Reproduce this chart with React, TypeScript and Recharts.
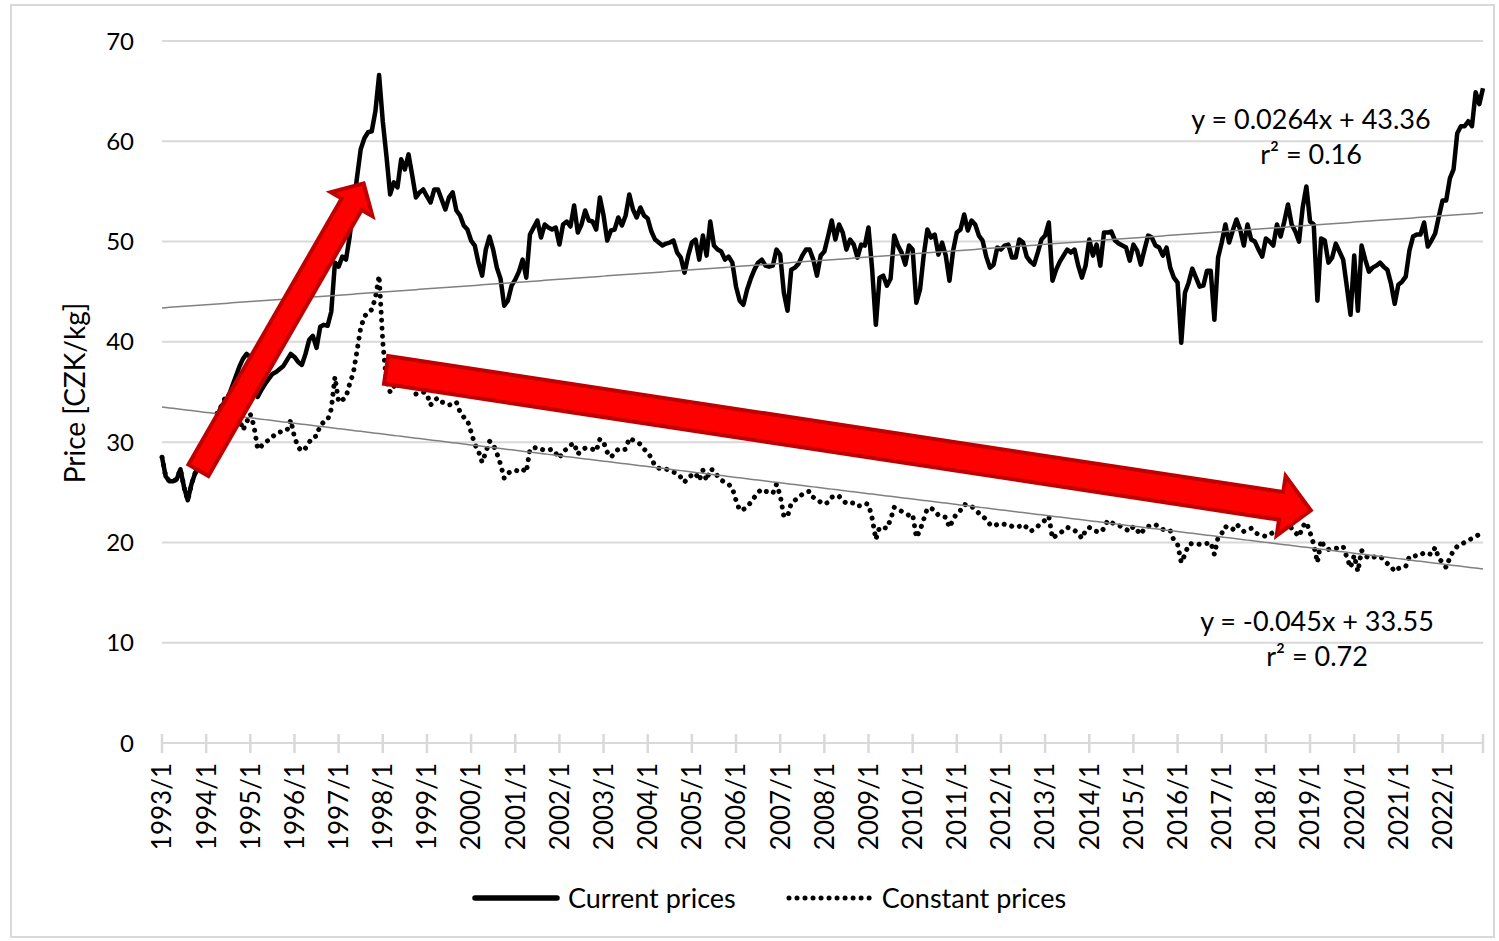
import React from 'react';
import {
  LineChart,
  Line,
  XAxis,
  YAxis,
  CartesianGrid,
  ReferenceLine,
  Legend,
  Customized,
} from 'recharts';

// monthly prices, 1993/1 .. 2022/12 (CZK/kg)
const years = Array.from({ length: 30 }, (_, k) => 1993 + k);
const categories = years.flatMap((y) => Array.from({ length: 12 }, (_, m) => `${y}/${m + 1}`));

const currentPrices = [
  28.5, 26.6, 26.1, 26.1, 26.3, 27.3, 25.5, 24.2, 25.8, 26.9, 27.5, 28.5, // 1993
  29.5, 30.5, 31.5, 32.5, 33.5, 34.0, 34.5, 35.5, 36.5, 37.5, 38.3, 38.8, // 1994
  38.5, 37.0, 34.5, 35.2, 35.8, 36.3, 36.8, 37.0, 37.3, 37.6, 38.2, 38.8, // 1995
  38.5, 38.0, 37.7, 38.8, 40.2, 40.6, 39.4, 41.5, 41.7, 41.6, 43.0, 47.9, // 1996
  47.5, 48.5, 48.2, 50.5, 53.5, 56.4, 59.2, 60.3, 60.9, 61.0, 63.0, 66.6, // 1997
  62.0, 58.5, 54.7, 55.9, 55.4, 58.2, 57.2, 58.7, 56.6, 54.4, 54.9, 55.2, // 1998
  54.5, 53.9, 55.2, 55.2, 54.2, 53.2, 54.4, 54.9, 53.1, 52.6, 51.6, 51.2, // 1999
  50.1, 49.6, 47.9, 46.6, 49.2, 50.5, 49.2, 47.4, 46.3, 43.6, 44.1, 45.6, // 2000
  46.2, 47.0, 48.2, 46.4, 50.7, 51.4, 52.1, 50.4, 51.7, 51.4, 51.2, 51.4, // 2001
  49.7, 51.7, 52.0, 51.5, 53.6, 50.9, 51.7, 53.1, 52.1, 52.0, 51.2, 54.4, // 2002
  52.6, 50.1, 51.1, 51.2, 52.4, 51.6, 52.6, 54.7, 53.2, 52.4, 53.4, 52.6, // 2003
  52.3, 51.0, 50.2, 49.9, 49.6, 49.8, 49.9, 50.1, 48.9, 48.4, 46.9, 48.6, // 2004
  49.9, 50.2, 48.2, 50.6, 48.6, 52.0, 49.6, 49.2, 49.0, 48.2, 48.5, 47.9, // 2005
  45.5, 44.1, 43.7, 45.2, 46.3, 47.2, 47.9, 48.2, 47.6, 47.5, 47.6, 49.2, // 2006
  48.7, 44.9, 43.1, 47.2, 47.4, 47.8, 48.6, 49.2, 49.2, 48.2, 46.6, 48.6, // 2007
  49.0, 50.5, 52.1, 50.2, 51.7, 50.9, 49.2, 50.2, 49.7, 48.4, 49.7, 49.6, // 2008
  51.4, 47.2, 41.7, 46.4, 46.6, 45.6, 46.3, 50.6, 49.6, 48.9, 47.7, 49.6, // 2009
  49.2, 43.9, 45.2, 48.6, 51.2, 50.4, 50.7, 48.7, 49.9, 48.6, 46.1, 49.1, // 2010
  50.9, 51.2, 52.7, 51.1, 52.1, 51.7, 50.6, 50.1, 48.5, 47.4, 47.7, 49.4, // 2011
  49.2, 49.6, 49.7, 48.4, 48.4, 50.2, 49.9, 48.5, 48.0, 47.7, 48.9, 50.2, // 2012
  50.6, 51.9, 46.1, 47.2, 48.0, 48.6, 49.2, 48.9, 49.2, 47.6, 46.4, 47.6, // 2013
  50.2, 48.6, 49.7, 47.6, 50.9, 50.9, 51.0, 50.1, 49.8, 49.6, 49.4, 48.1, // 2014
  49.7, 49.1, 47.7, 49.2, 50.6, 50.4, 49.6, 49.4, 48.6, 49.4, 47.4, 46.4, // 2015
  45.9, 39.9, 44.9, 45.9, 47.3, 46.4, 45.5, 45.6, 47.1, 47.1, 42.2, 48.4, // 2016
  49.9, 51.7, 49.9, 51.1, 52.2, 51.2, 49.6, 51.7, 50.2, 50.0, 49.2, 48.5, // 2017
  50.3, 50.0, 49.6, 51.7, 50.5, 52.0, 53.7, 51.7, 51.0, 50.0, 53.4, 55.5, // 2018
  52.0, 51.7, 44.1, 50.3, 50.1, 47.9, 48.4, 49.8, 49.0, 48.2, 45.5, 42.7, // 2019
  48.6, 43.1, 49.6, 48.2, 47.0, 47.4, 47.6, 47.9, 47.5, 47.2, 45.8, 43.8, // 2020
  45.7, 46.0, 46.5, 49.1, 50.5, 50.7, 50.7, 51.9, 49.5, 50.1, 50.8, 52.5, // 2021
  54.1, 54.1, 56.3, 57.2, 60.8, 61.5, 61.5, 62.0, 61.5, 64.9, 63.7, 65.3, // 2022
];

const constantPrices = [
  28.5, 26.6, 26.1, 26.1, 26.3, 27.3, 25.5, 24.2, 25.8, 26.9, 27.5, 28.5, // 1993
  29.3, 30.3, 31.5, 32.9, 33.5, 34.3, 34.8, 33.8, 33.0, 32.4, 31.2, 32.0, // 1994
  32.8, 31.6, 29.3, 29.6, 30.0, 30.2, 30.5, 30.9, 31.0, 31.1, 31.2, 32.2, // 1995
  30.5, 29.5, 29.1, 29.4, 30.0, 30.5, 30.6, 31.7, 32.0, 32.2, 33.3, 36.5, // 1996
  34.0, 34.2, 34.5, 35.8, 36.9, 39.1, 41.4, 42.5, 43.0, 43.2, 44.4, 46.6, // 1997
  40.0, 36.0, 35.0, 35.6, 35.3, 36.5, 36.0, 36.5, 35.7, 34.8, 34.9, 35.0, // 1998
  34.8, 33.7, 34.2, 34.4, 34.0, 33.9, 33.7, 33.8, 34.0, 33.0, 32.5, 32.2, // 1999
  31.0, 29.8, 29.1, 28.0, 29.0, 30.1, 29.8, 28.9, 27.8, 26.4, 26.9, 27.1, // 2000
  27.2, 27.1, 27.3, 27.0, 29.3, 29.4, 29.5, 29.3, 29.2, 29.2, 29.3, 28.9, // 2001
  28.4, 29.1, 29.3, 29.7, 29.9, 28.8, 29.2, 29.4, 29.4, 29.3, 29.1, 30.3, // 2002
  30.0, 29.0, 28.5, 28.9, 29.3, 29.2, 29.3, 30.4, 30.2, 30.0, 29.8, 29.3, // 2003
  29.0, 28.4, 27.6, 27.4, 27.3, 27.3, 27.2, 27.0, 26.9, 26.5, 26.0, 26.5, // 2004
  26.7, 26.9, 26.2, 27.2, 26.2, 27.3, 27.2, 26.6, 26.2, 26.0, 25.8, 25.4, // 2005
  24.2, 23.2, 23.3, 23.5, 24.0, 24.5, 25.0, 25.3, 25.1, 25.0, 24.9, 25.8, // 2006
  24.7, 22.6, 22.6, 23.9, 24.2, 24.5, 24.8, 25.0, 25.1, 24.5, 24.3, 24.0, // 2007
  23.8, 24.0, 24.5, 24.7, 24.6, 24.2, 23.9, 24.0, 23.9, 23.6, 23.7, 23.9, // 2008
  23.8, 22.4, 20.3, 21.5, 21.5, 21.4, 22.3, 23.5, 23.3, 23.1, 22.9, 22.7, // 2009
  22.8, 20.5, 21.2, 22.3, 23.4, 23.4, 23.2, 22.7, 22.6, 22.5, 21.5, 22.3, // 2010
  22.9, 23.2, 23.8, 23.7, 23.6, 23.3, 22.9, 22.6, 22.3, 21.8, 21.6, 21.8, // 2011
  21.9, 21.8, 21.8, 21.6, 21.5, 21.6, 21.8, 21.5, 21.1, 21.3, 21.6, 22.0, // 2012
  22.2, 22.6, 20.4, 20.7, 20.9, 21.2, 21.5, 21.4, 21.2, 20.9, 20.4, 21.2, // 2013
  21.5, 21.2, 21.1, 21.0, 21.4, 22.2, 22.0, 21.8, 21.7, 21.5, 21.3, 21.1, // 2014
  21.6, 21.2, 20.8, 21.4, 21.6, 21.7, 21.8, 21.5, 21.3, 21.2, 21.2, 20.2, // 2015
  19.8, 18.0, 18.8, 19.8, 19.9, 19.9, 19.8, 19.8, 19.9, 20.0, 18.8, 20.5, // 2016
  20.9, 21.6, 21.3, 21.3, 21.8, 21.5, 21.1, 21.3, 21.4, 21.0, 20.8, 20.7, // 2017
  20.6, 20.8, 21.0, 21.1, 21.2, 21.3, 21.8, 21.4, 21.0, 20.6, 21.6, 22.0, // 2018
  21.0, 19.8, 18.0, 20.2, 19.5, 19.3, 19.4, 19.4, 19.5, 19.6, 18.5, 17.5, // 2019
  18.7, 17.1, 19.2, 18.7, 18.4, 18.5, 18.6, 18.6, 18.3, 17.9, 17.6, 17.1, // 2020
  17.4, 17.5, 17.6, 18.6, 18.6, 18.7, 18.7, 19.0, 18.9, 18.8, 19.5, 18.4, // 2021
  18.0, 17.5, 18.5, 19.2, 19.6, 19.8, 20.0, 20.2, 20.4, 20.6, 20.8, 21.0, // 2022
];

// linear trends as printed on the chart (x = month number, 1-based)
const currentTrend = { slope: 0.0264, intercept: 43.36, r2: '0.16' };
const constantTrend = { slope: -0.045, intercept: 33.55, r2: '0.72' };

const yTicks = [0, 10, 20, 30, 40, 50, 60, 70];
const xTicks = [...years.map((_, k) => k * 12), categories.length - 1];

// red annotation arrows, in data units (month index, price)
const arrows = [
  { from: { x: 9.9, y: 27.2 }, to: { x: 54.8, y: 55.8 }, half: 11.5, headHalf: 24, headLen: 24 },
  { from: { x: 60.9, y: 37.2 }, to: { x: 312.2, y: 23.2 }, half: 14, headHalf: 30, headLen: 30 },
];

const rows = categories.map((label, i) => ({
  i,
  label,
  current: currentPrices[i],
  constant: constantPrices[i],
  currentTrend: currentTrend.slope * (i + 1) + currentTrend.intercept,
  constantTrend: constantTrend.slope * (i + 1) + constantTrend.intercept,
}));

const FONT = "Lato, 'Noto Sans', sans-serif";
const GRID = '#d9d9d9';
const DOTS = '0.01 8';

const renderYearTick = (props: any) => {
  const { x, y, payload } = props;
  const v = payload.value;
  const label = v % 12 === 0 ? categories[v] : '';
  return (
    <g>
      <line x1={x} x2={x} y1={y - 9} y2={y + 10} stroke={GRID} strokeWidth={2.5} />
      {label && (
        <text
          x={x}
          y={y + 20}
          transform={`rotate(-90 ${x} ${y + 20})`}
          textAnchor="end"
          dy="0.36em"
          fontSize={26}
          fontFamily={FONT}
          fill="#000"
        >
          {label}
        </text>
      )}
    </g>
  );
};

const arrowShape = (a: any) => (props: any) => {
  const { x1, y1, x2, y2 } = props;
  const len = Math.hypot(x2 - x1, y2 - y1);
  const ux = (x2 - x1) / len;
  const uy = (y2 - y1) / len;
  const nx = -uy;
  const ny = ux;
  const bx = x2 - ux * a.headLen;
  const by = y2 - uy * a.headLen;
  const pts = [
    [x1 + nx * a.half, y1 + ny * a.half],
    [bx + nx * a.half, by + ny * a.half],
    [bx + nx * a.headHalf, by + ny * a.headHalf],
    [x2, y2],
    [bx - nx * a.headHalf, by - ny * a.headHalf],
    [bx - nx * a.half, by - ny * a.half],
    [x1 - nx * a.half, y1 - ny * a.half],
  ];
  return (
    <polygon
      points={pts.map((p) => p.join(',')).join(' ')}
      fill="#ff0000"
      stroke="#c00000"
      strokeWidth={4}
      strokeLinejoin="miter"
    />
  );
};

const Annotations = () => (
  <g fontFamily={FONT} fill="#000">
    <text x={75} y={393} transform="rotate(-90 75 393)" textAnchor="middle" dy="0.36em" fontSize={28}>
      Price [CZK/kg]
    </text>
    <text x={1311} y={129} textAnchor="middle" fontSize={27}>
      {`y = ${currentTrend.slope}x + ${currentTrend.intercept}`}
    </text>
    <text x={1311} y={164} textAnchor="middle" fontSize={27}>
      {`r² = ${currentTrend.r2}`}
    </text>
    <text x={1317} y={631} textAnchor="middle" fontSize={27}>
      {`y = ${constantTrend.slope}x + ${constantTrend.intercept}`}
    </text>
    <text x={1317} y={666} textAnchor="middle" fontSize={27}>
      {`r² = ${constantTrend.r2}`}
    </text>
  </g>
);

const legendItems = [
  { name: 'Current prices', dotted: false },
  { name: 'Constant prices', dotted: true },
];

const LegendContent = () => (
  <div style={{ display: 'flex', alignItems: 'center', paddingLeft: 472, fontFamily: FONT, fontSize: 27, color: '#000' }}>
    {legendItems.map((it, k) => (
      <div key={it.name} style={{ display: 'flex', alignItems: 'center', marginRight: k === 0 ? 50 : 0 }}>
        <svg width={88} height={12} style={{ marginRight: 8 }}>
          {it.dotted ? (
            <line x1={3} x2={85} y1={6} y2={6} stroke="#000" strokeWidth={5} strokeDasharray={DOTS} strokeLinecap="round" />
          ) : (
            <line x1={3} x2={85} y1={6} y2={6} stroke="#000" strokeWidth={5.5} strokeLinecap="round" />
          )}
        </svg>
        <span>{it.name}</span>
      </div>
    ))}
  </div>
);

export default function App() {
  return (
    <div style={{ position: 'absolute', left: 0, top: 0, width: 1499, height: 941, background: '#fff' }}>
      <div
        style={{
          position: 'absolute',
          left: 10,
          top: 4,
          width: 1485,
          height: 934,
          border: `2px solid ${GRID}`,
          boxSizing: 'border-box',
          pointerEvents: 'none',
        }}
      />
      <LineChart width={1499} height={941} data={rows} margin={{ top: 41, right: 16, bottom: 88, left: 102 }}>
        <CartesianGrid vertical={false} stroke={GRID} strokeWidth={2} />
        <XAxis
          type="number"
          dataKey="i"
          domain={[0, categories.length - 1]}
          ticks={xTicks}
          interval={0}
          tick={renderYearTick}
          tickLine={false}
          tickSize={0}
          tickMargin={0}
          axisLine={{ stroke: GRID, strokeWidth: 2 }}
          height={110}
        />
        <YAxis
          domain={[0, 70]}
          ticks={yTicks}
          axisLine={false}
          tickLine={false}
          tickSize={0}
          tickMargin={28}
          width={60}
          tick={{ fontSize: 24, fill: '#000', fontFamily: FONT }}
        />
        <Line
          dataKey="current"
          name="Current prices"
          type="linear"
          stroke="#000"
          strokeWidth={4.5}
          strokeLinejoin="round"
          dot={false}
          isAnimationActive={false}
        />
        <Line
          dataKey="constant"
          name="Constant prices"
          type="linear"
          stroke="#000"
          strokeWidth={5}
          strokeDasharray={DOTS}
          strokeLinecap="round"
          dot={false}
          isAnimationActive={false}
        />
        <Line dataKey="currentTrend" type="linear" stroke="#808080" strokeWidth={1.5} dot={false} legendType="none" isAnimationActive={false} />
        <Line dataKey="constantTrend" type="linear" stroke="#808080" strokeWidth={1.5} dot={false} legendType="none" isAnimationActive={false} />
        {arrows.map((a, k) => (
          <ReferenceLine key={k} segment={[a.from, a.to]} ifOverflow="visible" shape={arrowShape(a)} />
        ))}
        <Legend
          verticalAlign="middle"
          align="center"
          layout="horizontal"
          content={() => <LegendContent />}
          wrapperStyle={{ top: 881, left: 0, width: 1499, height: 42 }}
        />
        <Customized component={Annotations} />
      </LineChart>
    </div>
  );
}
